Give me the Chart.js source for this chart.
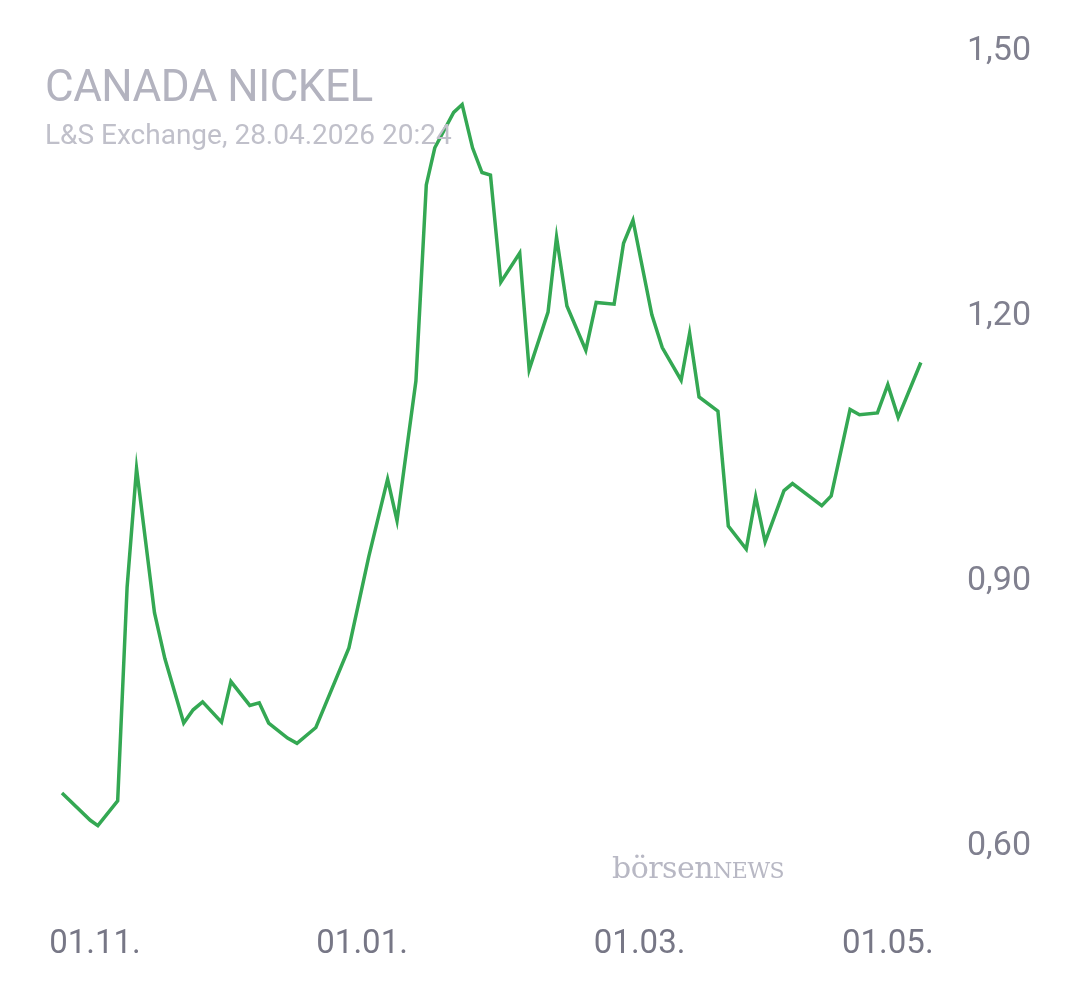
<!DOCTYPE html>
<html><head><meta charset="utf-8">
<script src="https://cdn.jsdelivr.net/npm/chart.js@4"></script>
<style>
body{margin:0;background:#fff;width:1080px;height:990px;overflow:hidden;font-family:Roboto,sans-serif}
#wrap{position:relative;width:1080px;height:990px}
canvas{position:absolute;left:0;top:0}
.t{position:absolute;left:45px;top:60px;font-size:44px;color:#b3b3bf;letter-spacing:-0.5px}
.s{position:absolute;left:45px;top:118px;font-size:28px;color:#c0c0ca}
.w{position:absolute;left:612px;top:850px;font-family:'DejaVu Serif',serif;font-size:30px;color:#b8b8c4;letter-spacing:-0.5px}
.w span{font-size:22px}
</style></head><body>
<div id="wrap"><canvas id="c" width="1080" height="990"></canvas>
<div class="t">CANADA NICKEL</div>
<div class="s">L&amp;S Exchange, 28.04.2026 20:24</div>
<div class="w">börsen<span>NEWS</span></div>
</div>
<script>
const xIdx=[0,3,3.8,5.9,6.9,7.9,9.8,10.9,12.9,13.9,14.9,16.9,17.9,19.9,20.9,21.9,23.9,24.9,26.9,30.4,32.5,34.5,35.5,37.5,38.6,39.5,41.5,42.4,43.5,44.5,45.4,46.5,48.5,49.5,51.5,52.4,53.5,55.5,56.6,58.5,59.5,60.5,62.5,63.6,65.6,66.5,67.5,69.5,70.6,72.5,73.5,74.5,76.5,77.4,80.5,81.5,83.5,84.5,86.4,87.5,88.6,91];
const prices=[0.661,0.630,0.624,0.652,0.894,1.028,0.865,0.813,0.740,0.755,0.764,0.741,0.787,0.760,0.763,0.740,0.723,0.717,0.735,0.825,0.928,1.016,0.969,1.127,1.349,1.391,1.431,1.440,1.391,1.363,1.360,1.239,1.272,1.140,1.205,1.290,1.212,1.162,1.216,1.214,1.283,1.309,1.202,1.165,1.128,1.181,1.109,1.093,0.963,0.937,0.996,0.945,1.003,1.011,0.986,0.997,1.095,1.089,1.091,1.123,1.086,1.148];
const xTickPos=[3.5,31.8,61.2,87.5];
const xTickLabels=['01.11.','01.01.','01.03.','01.05.'];
const yTicks=[0.6,0.9,1.2,1.5];
const yTickLabels=['0,60','0,90','1,20','1,50'];
new Chart(document.getElementById('c'),{
type:'line',
data:{datasets:[{data:xIdx.map((x,i)=>({x:x,y:prices[i]})),borderColor:'#34a853',borderWidth:3.5,pointRadius:0,tension:0,fill:false}]},
options:{responsive:false,animation:false,
layout:{padding:{left:50,top:26,right:0,bottom:0}},
plugins:{legend:{display:false},tooltip:{enabled:false}},
scales:{
x:{type:'linear',min:-1.27,max:92.5,grid:{display:false},border:{display:false},
afterBuildTicks:s=>{s.ticks=xTickPos.map(v=>({value:v}));},
afterFit:s=>{s.height=103;},
ticks:{padding:30,maxRotation:0,autoSkip:false,color:'#777786',font:{family:'Roboto',size:33},callback:(v,i)=>xTickLabels[i]}},
y:{position:'right',min:0.5545,max:1.508,grid:{display:false},border:{display:false},
afterBuildTicks:s=>{s.ticks=yTicks.map(v=>({value:v}));},
afterFit:s=>{s.width=145;},
ticks:{padding:24,color:'#80808f',font:{family:'Roboto',size:34},callback:(v,i)=>yTickLabels[i]}}
}}});
</script></body></html>
